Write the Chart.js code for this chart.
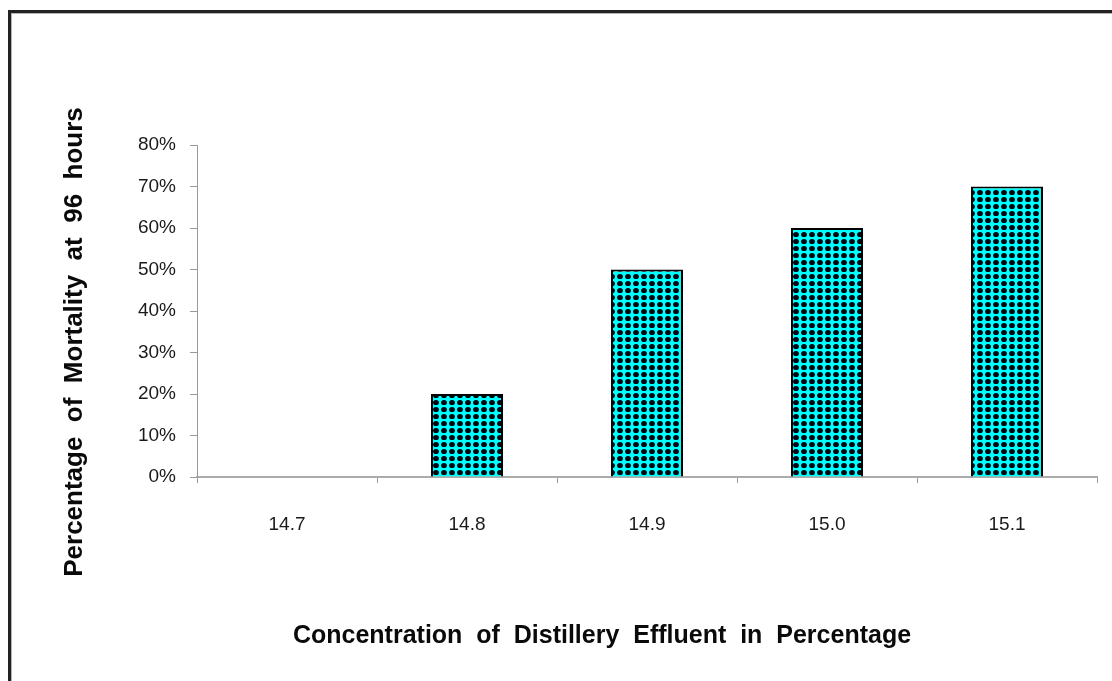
<!DOCTYPE html>
<html>
<head>
<meta charset="utf-8">
<script src="https://cdn.jsdelivr.net/npm/chart.js@4.4.0/dist/chart.umd.min.js"></script>
<style>
  html, body { margin: 0; padding: 0; background: #fff; overflow: hidden; }
  #wrap { position: relative; width: 1112px; height: 681px; overflow: hidden; background: #fff; }
  #frame {
    position: absolute; left: 8px; top: 10px; width: 1200px; height: 800px;
    border: 3px solid #222; box-shadow: inset 1px 1px 0 #b5b5b5;
  }
  #c { position: absolute; left: 0; top: 0; }
</style>
</head>
<body>
<div id="wrap">
  <div id="frame"></div>
  <canvas id="c" width="1112" height="681"></canvas>
</div>
<script>
// Effluent concentrations (%) and mortality after 96 h (%)
const categories = ['14.7', '14.8', '14.9', '15.0', '15.1'];
const mortality = [0, 20, 50, 60, 70];
const yTickValues = [0, 10, 20, 30, 40, 50, 60, 70, 80];

const xTitle = 'Concentration  of  Distillery  Effluent  in  Percentage';
const yTitle = 'Percentage  of  Mortality  at  96  hours';

const FONT = '"Liberation Sans", Arial, sans-serif';

// cyan fill with a regular grid of black dots
function dotPattern() {
  const p = document.createElement('canvas');
  p.width = 8; p.height = 7;
  const g = p.getContext('2d');
  g.fillStyle = '#00ffff';
  g.fillRect(0, 0, 8, 7);
  g.fillStyle = '#050510';
  g.beginPath();
  g.ellipse(4, 3.5, 2.9, 2.6, 0, 0, Math.PI * 2);
  g.fill();
  return g.createPattern(p, 'repeat');
}

// bold axis captions
const axisCaptions = {
  id: 'axisCaptions',
  afterDraw(chart) {
    const ctx = chart.ctx;
    ctx.save();
    ctx.fillStyle = '#0a0a0a';
    ctx.textAlign = 'center';
    ctx.textBaseline = 'middle';
    ctx.font = 'bold 25px ' + FONT;
    ctx.fillText(xTitle, 602, 636);
    ctx.translate(75, 342);
    ctx.rotate(-Math.PI / 2);
    ctx.font = 'bold 26px ' + FONT;
    ctx.fillText(yTitle, 0, 0);
    ctx.restore();
  }
};

new Chart(document.getElementById('c'), {
  type: 'bar',
  data: {
    labels: categories,
    datasets: [{
      data: mortality,
      backgroundColor: dotPattern(),
      borderColor: '#000',
      borderWidth: 2,
      categoryPercentage: 1.0,
      barPercentage: 0.4
    }]
  },
  options: {
    responsive: false,
    animation: false,
    devicePixelRatio: 1,
    layout: { padding: { left: 0, top: 145, right: 15, bottom: 0 } },
    plugins: { legend: { display: false }, tooltip: { enabled: false } },
    scales: {
      x: {
        grid: { display: true, drawOnChartArea: false, offset: true, tickLength: 6, color: '#9a9a9a', lineWidth: 1 },
        border: { color: '#ababab', width: 2 },
        ticks: { font: { family: FONT, size: 19 }, color: '#1a1a1a', padding: 30 },
        afterFit(scale) { scale.height = 204; }
      },
      y: {
        min: 0, max: 80,
        afterBuildTicks(scale) { scale.ticks = yTickValues.map(v => ({ value: v })); },
        ticks: { callback: v => v + '%', font: { family: FONT, size: 19 }, color: '#1a1a1a', padding: 14 },
        grid: { display: true, drawOnChartArea: false, tickLength: 7, color: '#9a9a9a', lineWidth: 1 },
        border: { color: '#9a9a9a', width: 1 },
        afterFit(scale) { scale.width = 197; }
      }
    }
  },
  plugins: [axisCaptions]
});
</script>
</body>
</html>
